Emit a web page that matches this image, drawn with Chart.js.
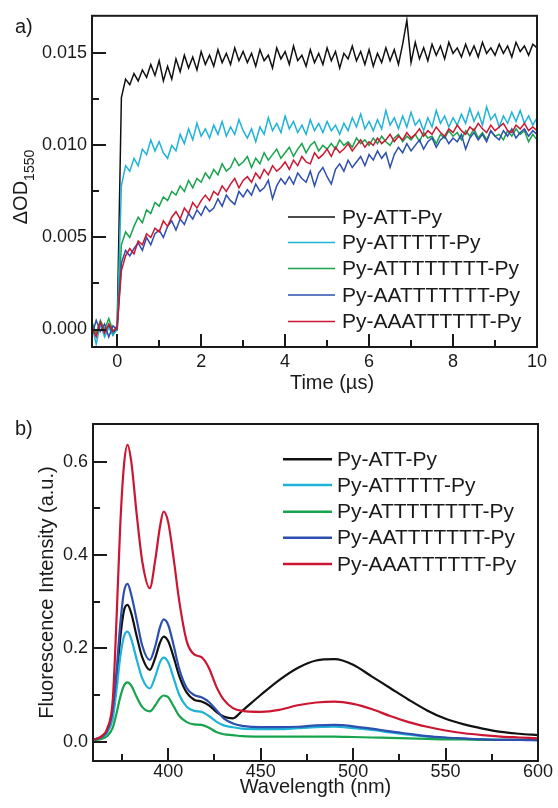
<!DOCTYPE html>
<html>
<head>
<meta charset="utf-8">
<script src="https://cdn.jsdelivr.net/npm/chart.js@4.4.0/dist/chart.umd.min.js"></script>
<style>
  html, body { margin: 0; padding: 0; background: #fff; }
  #wrap { position: relative; width: 558px; height: 808px; }
  canvas { position: absolute; left: 0; }
</style>
</head>
<body>
<div id="wrap">
  <canvas id="chartA" width="558" height="400" style="top:0"></canvas>
  <canvas id="chartB" width="558" height="408" style="top:400px"></canvas>
</div>
<script>
const seriesNames = ["Py-ATT-Py", "Py-ATTTTT-Py", "Py-ATTTTTTTT-Py", "Py-AATTTTTTT-Py", "Py-AAATTTTTT-Py"];
const seriesColors = ["#111111", "#1fb3d8", "#17a44c", "#2d4fae", "#cc1631"];

// a) transient absorption, time in µs, ΔOD in units of 1e-3
const timeUs = [
  -0.6, -0.5, -0.4, -0.3, -0.2, -0.1, 0,
  0.1, 0.2, 0.3, 0.4, 0.5, 0.6, 0.7, 0.8, 0.9, 1.0,
  1.1, 1.2, 1.3, 1.4, 1.5, 1.6, 1.7, 1.8, 1.9, 2.0,
  2.1, 2.2, 2.3, 2.4, 2.5, 2.6, 2.7, 2.8, 2.9, 3.0,
  3.1, 3.2, 3.3, 3.4, 3.5, 3.6, 3.7, 3.8, 3.9, 4.0,
  4.1, 4.2, 4.3, 4.4, 4.5, 4.6, 4.7, 4.8, 4.9, 5.0,
  5.1, 5.2, 5.3, 5.4, 5.5, 5.6, 5.7, 5.8, 5.9, 6.0,
  6.1, 6.2, 6.3, 6.4, 6.5, 6.6, 6.7, 6.8, 6.9, 7.0,
  7.1, 7.2, 7.3, 7.4, 7.5, 7.6, 7.7, 7.8, 7.9, 8.0,
  8.1, 8.2, 8.3, 8.4, 8.5, 8.6, 8.7, 8.8, 8.9, 9.0,
  9.1, 9.2, 9.3, 9.4, 9.5, 9.6, 9.7, 9.8, 9.9, 10.0
];
const odATT = [
  0.3, -0.2, 0.4, -0.1, 0.2, -0.3, 0.2,
  12.6, 13.6, 13.3, 13.9, 13.5, 14.1, 13.7, 14.4, 13.8, 14.6,
  13.5, 14.3, 13.6, 14.7, 14.0, 14.9, 14.2, 14.8, 14.1, 15.1,
  14.4, 14.9, 14.3, 15.2, 14.5, 15.0, 14.4, 15.3, 14.6, 15.1,
  14.5, 15.0, 14.3, 15.2, 14.6, 14.9, 14.2, 15.3, 14.7, 15.1,
  14.4, 15.4, 14.6, 14.9, 14.3, 15.2, 14.5, 15.0, 14.4, 15.3,
  14.6, 15.1, 14.2, 15.0, 14.7, 15.4, 14.6, 15.1, 14.4, 15.2,
  14.3, 15.0, 14.5, 15.3, 14.6, 15.2, 14.4, 15.5, 16.8, 14.5,
  15.6, 14.7, 15.3, 14.6, 15.5, 14.9, 15.4, 14.7, 15.6, 15.0,
  15.3, 14.8, 15.5, 14.9, 15.4, 14.8, 15.6, 15.0, 15.3, 14.9,
  15.5, 15.0, 15.4, 14.8, 15.6, 15.1, 15.4, 14.9, 15.5, 15.3
];
const odATTTTT = [
  0.2, -0.8, 0.3, -0.4, 0.1, -0.3, 0.0,
  7.8, 8.9, 8.6, 9.3, 8.9, 9.8, 9.5, 10.3, 9.7, 10.2,
  9.6, 9.3, 10.0, 9.7, 10.6, 10.1, 10.9, 10.3, 11.2, 10.5,
  10.9, 10.4, 11.1, 10.6, 11.3, 10.5, 11.0, 10.6, 11.4, 10.8,
  10.4, 10.9, 10.2, 11.0, 10.6, 11.5, 10.8, 11.2, 10.7, 11.6,
  10.9, 11.3, 10.7, 11.1, 10.6, 11.4, 10.8, 11.2, 10.7, 11.3,
  10.8, 11.1, 10.6, 11.2, 10.8, 11.5, 11.0, 11.7, 10.9, 11.3,
  10.8, 11.4, 10.9, 11.9, 11.1, 11.5, 10.9, 11.6, 11.0, 11.8,
  11.1, 11.4, 10.8, 11.5, 11.0, 11.9, 11.2, 11.6, 11.0, 11.5,
  11.1, 11.7, 11.2, 12.0, 11.3, 11.8, 11.1, 12.1, 11.4, 11.7,
  11.0, 11.6, 11.2, 11.8, 11.3, 11.9, 11.2, 11.6, 11.1, 11.5
];
const odATTTTTTTT = [
  0.4, -0.2, 0.5, 0.0, 0.6, -0.1, 0.2,
  4.6, 5.3, 5.0, 5.6, 6.1, 5.8, 6.5, 6.3, 6.9, 6.7,
  7.2, 7.0, 7.5, 7.3, 7.8, 7.5, 8.1, 7.7, 8.2, 8.0,
  8.5, 8.2, 8.7, 8.4, 9.0, 8.6, 8.8, 9.3, 8.9, 9.1,
  9.4, 8.8, 9.3, 9.0, 9.6, 9.2, 9.5, 9.8, 9.3, 9.6,
  9.9, 9.4, 9.8, 10.1, 9.6, 10.0, 10.2, 9.7, 10.0, 9.8,
  10.1, 9.8, 10.3, 10.0, 10.2, 9.9, 10.4, 10.1, 10.3, 10.0,
  10.4, 10.1, 10.5, 10.2, 10.0, 10.4, 10.6, 10.2, 10.5, 10.3,
  10.6, 10.2, 10.7, 10.4, 10.5, 10.1, 10.6, 10.4, 10.8, 10.5,
  10.7, 10.3, 10.8, 10.5, 10.9, 10.4, 10.7, 10.3, 10.8, 10.5,
  10.6, 10.3, 10.8, 10.5, 10.9, 10.6, 10.8, 10.2, 10.6, 10.3
];
const odAATTTTTTT = [
  -0.3, 0.5, -0.1, 0.3, -0.4, 0.2, 0.0,
  3.6, 4.3, 4.0, 4.4, 4.7, 4.3, 5.0, 4.6, 5.2, 5.4,
  5.0, 5.6, 5.9, 5.4, 6.0, 5.7, 6.3, 6.0, 6.5, 6.2,
  6.7, 6.4, 6.6, 7.1, 6.7, 7.3, 7.0, 6.8, 7.5, 7.2,
  7.6, 7.3, 7.9, 7.5, 7.7, 8.1, 7.1, 7.8, 8.2, 7.9,
  8.3, 7.9, 8.5, 8.2, 8.0, 8.6, 7.8, 8.5, 8.8, 8.3,
  7.9, 8.7, 9.0, 8.6, 9.2, 8.8, 9.1, 9.4, 8.9, 9.5,
  9.2, 9.7, 9.3, 9.6, 8.8, 9.5, 9.9, 9.6, 10.1, 9.7,
  10.0, 10.3, 9.8, 10.2, 10.4, 9.9, 10.3, 10.5, 10.1, 10.4,
  10.2, 10.6, 9.8, 10.4, 10.7, 10.3, 10.6, 10.2, 10.8, 10.5,
  10.3, 10.8, 10.5, 10.9, 10.4, 10.7, 10.9, 10.5, 10.8, 10.6
];
const odAAATTTTTT = [
  0.1, -0.4, 0.4, -0.2, 0.3, -0.1, 0.1,
  3.2, 4.0, 4.4, 4.1, 4.8, 4.6, 5.2, 5.0, 5.5, 5.3,
  5.9, 5.6, 6.1, 6.4, 6.0, 6.6, 6.3, 6.9, 6.6, 7.0,
  7.3, 7.0, 7.5, 7.3, 7.8, 7.5, 7.9, 8.2, 7.7, 8.1,
  8.3, 8.0, 8.5, 8.2, 8.7, 8.4, 8.9, 8.6, 8.8, 9.1,
  8.7, 9.2, 8.9, 9.4, 9.1, 9.0, 9.6, 9.3, 9.5, 9.8,
  9.4, 9.9, 9.6, 9.8, 10.1, 9.7, 10.0, 10.3, 9.9, 10.2,
  10.0, 10.4, 10.1, 10.3, 10.6, 10.2, 10.5, 10.3, 10.7, 10.4,
  10.6, 10.9, 10.5, 10.8, 10.6, 11.0, 10.7, 10.5, 10.9, 10.7,
  11.1, 10.8, 10.6, 11.0, 10.8, 11.2, 10.9, 10.7, 11.1, 10.8,
  11.0, 11.2, 10.8, 10.7, 11.1, 10.9, 11.2, 10.8, 11.0, 10.8
];
const odSeries = [odATT, odATTTTT, odATTTTTTTT, odAATTTTTTT, odAAATTTTTT];

const timeTicks = [0, 2, 4, 6, 8, 10];
const timeMinorTicks = [1, 3, 5, 7, 9];
const odTicks = [0, 0.005, 0.010, 0.015];
const odMinorTicks = [0.0025, 0.0075, 0.0125];

// b) fluorescence spectra
const wavelengthNm = [
  360, 364, 367, 370, 372, 374, 376, 378, 380, 383, 386, 390, 393, 395.5, 397.5,
  400, 403, 406, 410, 414, 418, 422, 426, 430, 435, 440, 450, 460, 470, 480,
  490, 500, 510, 520, 530, 540, 550, 560, 570, 580, 590, 600
];
const flATT = [
  0.004, 0.010, 0.022, 0.06, 0.13, 0.22, 0.28, 0.293, 0.275, 0.225, 0.18, 0.154, 0.18, 0.212, 0.225,
  0.215, 0.18, 0.14, 0.105, 0.09, 0.086, 0.078, 0.064, 0.054, 0.050, 0.066, 0.10, 0.132, 0.158, 0.174,
  0.177, 0.165, 0.14, 0.115, 0.09, 0.067, 0.049, 0.037, 0.028, 0.021, 0.017, 0.014
];
const flATTTTT = [
  0.004, 0.009, 0.02, 0.05, 0.11, 0.18, 0.225, 0.236, 0.22, 0.175, 0.135, 0.114, 0.14, 0.17, 0.18,
  0.17, 0.135, 0.1, 0.075, 0.066, 0.064, 0.055, 0.043, 0.035, 0.031, 0.028, 0.027, 0.027, 0.029, 0.031,
  0.032, 0.029, 0.025, 0.02, 0.015, 0.011, 0.008, 0.006, 0.005, 0.004, 0.004, 0.004
];
const flATTTTTTTT = [
  0.003, 0.006, 0.012, 0.03, 0.06, 0.095, 0.12, 0.127, 0.12, 0.095, 0.074, 0.065, 0.078, 0.093, 0.099,
  0.095, 0.075, 0.055, 0.042, 0.037, 0.036, 0.03, 0.021, 0.016, 0.014, 0.012, 0.011, 0.011, 0.011, 0.011,
  0.011, 0.010, 0.009, 0.008, 0.007, 0.006, 0.005, 0.005, 0.004, 0.004, 0.004, 0.004
];
const flAATTTTTTT = [
  0.005, 0.011, 0.024, 0.07, 0.15, 0.25, 0.32, 0.338, 0.315, 0.26, 0.205, 0.175, 0.205, 0.245, 0.262,
  0.25, 0.205, 0.155, 0.115, 0.1, 0.095, 0.085, 0.068, 0.05, 0.039, 0.034, 0.031, 0.031, 0.032, 0.035,
  0.036, 0.033, 0.028, 0.022, 0.017, 0.012, 0.009, 0.007, 0.005, 0.004, 0.004, 0.003
];
const flAAATTTTTT = [
  0.004, 0.012, 0.028, 0.09, 0.26, 0.46, 0.59, 0.636, 0.60, 0.485, 0.385, 0.329, 0.39, 0.46, 0.493,
  0.47, 0.39, 0.30, 0.215, 0.187, 0.181, 0.158, 0.118, 0.090, 0.072, 0.066, 0.064, 0.068, 0.078, 0.084,
  0.086, 0.081, 0.070, 0.055, 0.042, 0.032, 0.024, 0.018, 0.014, 0.011, 0.009, 0.007
];
const flSeries = [flATT, flATTTTT, flATTTTTTTT, flAATTTTTTT, flAAATTTTTT];

const wlTicks = [400, 450, 500, 550, 600];
const wlMinorTicks = [375, 425, 475, 525, 575];
const flTicks = [0, 0.2, 0.4, 0.6];
const flMinorTicks = [0.1, 0.3, 0.5];

const FONT = "'Liberation Sans', Arial, sans-serif";
const INK = "#1a1a1a";

// box, inward ticks, legend, panel letter and extra titles
const framePlugin = {
  id: "frame",
  afterDraw(chart, args, opts) {
    const { ctx, chartArea: a } = chart;
    const xs = chart.scales.x, ys = chart.scales.y;
    ctx.save();
    ctx.strokeStyle = INK;
    ctx.lineWidth = 2;
    ctx.beginPath();
    const xTick = (v, len) => {
      const px = Math.round(xs.getPixelForValue(v));
      ctx.moveTo(px, a.bottom); ctx.lineTo(px, a.bottom - len);
    };
    const yTick = (v, len) => {
      const py = Math.round(ys.getPixelForValue(v));
      ctx.moveTo(a.left, py); ctx.lineTo(a.left + len, py);
    };
    opts.xMajor.forEach(v => xTick(v, 13));
    opts.xMinor.forEach(v => xTick(v, 7));
    opts.yMajor.forEach(v => yTick(v, 14));
    opts.yMinor.forEach(v => yTick(v, 7));
    ctx.stroke();
    ctx.strokeRect(a.left, a.top, a.right - a.left, a.bottom - a.top);

    // legend
    const lg = opts.legend;
    ctx.font = "21px " + FONT;
    ctx.textBaseline = "middle";
    ctx.textAlign = "left";
    ctx.fillStyle = INK;
    lg.rows.forEach((ry, i) => {
      ctx.strokeStyle = seriesColors[i];
      ctx.lineWidth = lg.lineWidth;
      ctx.beginPath();
      ctx.moveTo(lg.x0, ry); ctx.lineTo(lg.x1, ry);
      ctx.stroke();
      ctx.fillText(seriesNames[i], lg.tx, ry + 1);
    });

    // panel letter
    ctx.font = "20px " + FONT;
    ctx.textBaseline = "alphabetic";
    ctx.fillText(opts.panel, 15, opts.panelY);

    if (opts.xTitle) {
      ctx.textAlign = "center";
      ctx.textBaseline = "middle";
      ctx.fillText(opts.xTitle.text, opts.xTitle.x, opts.xTitle.y);
    }
    if (opts.yTitle) {
      const t = opts.yTitle;
      ctx.translate(t.x, t.y);
      ctx.rotate(-Math.PI / 2);
      ctx.textAlign = "left";
      ctx.textBaseline = "alphabetic";
      ctx.font = "20px " + FONT;
      const w1 = ctx.measureText(t.main).width;
      ctx.font = "14px " + FONT;
      const w2 = ctx.measureText(t.sub).width;
      const start = -(w1 + w2) / 2;
      ctx.font = "20px " + FONT;
      ctx.fillText(t.main, start, 0);
      ctx.font = "14px " + FONT;
      ctx.fillText(t.sub, start + w1, 7);
    }
    ctx.restore();
  }
};

function baseScale(min, max, ticks, fmt, fit) {
  return {
    type: "linear",
    min: min,
    max: max,
    afterBuildTicks: s => { s.ticks = ticks.map(v => ({ value: v })); },
    afterFit: fit,
    grid: { display: false, drawTicks: false },
    border: { display: false },
    ticks: { font: { size: 18, family: FONT }, color: INK, callback: fmt }
  };
}

// panel a
const scaleAx = baseScale(-0.6, 10, timeTicks, v => String(v), s => { s.height = 53; });
scaleAx.ticks.padding = 4;
const scaleAy = baseScale(-0.00095, 0.01704, odTicks, v => v.toFixed(3), s => { s.width = 92; });
scaleAy.ticks.padding = 5;

new Chart(document.getElementById("chartA"), {
  type: "line",
  data: {
    datasets: seriesNames.map((name, i) => ({
      label: name,
      data: timeUs.map((t, k) => ({ x: t, y: odSeries[i][k] / 1000 })),
      borderColor: seriesColors[i],
      borderWidth: 1.5,
      pointRadius: 0,
      tension: 0,
      order: 5 - i
    }))
  },
  options: {
    responsive: false,
    animation: false,
    devicePixelRatio: 1,
    layout: { padding: { left: 0, top: 12, right: 21, bottom: 0 } },
    plugins: {
      legend: { display: false },
      tooltip: { enabled: false },
      frame: {
        xMajor: timeTicks, xMinor: timeMinorTicks, yMajor: odTicks, yMinor: odMinorTicks,
        legend: { rows: [217, 242.5, 268.5, 295, 321.5], x0: 288, x1: 335, tx: 342, lineWidth: 1.6 },
        panel: "a)", panelY: 33,
        xTitle: { text: "Time (\u00b5s)", x: 332, y: 383 },
        yTitle: { main: "\u0394OD", sub: "1550", x: 27, y: 187 }
      }
    },
    scales: { x: scaleAx, y: scaleAy }
  },
  plugins: [framePlugin]
});

// panel b
const scaleBx = baseScale(359.3, 600, wlTicks, v => String(v), s => { s.height = 47; });
scaleBx.ticks.padding = 0;
scaleBx.title = { display: true, text: "Wavelength (nm)", font: { size: 20, family: FONT }, color: INK, padding: { top: 0, bottom: 9 } };
const scaleBy = baseScale(-0.0414, 0.6808, flTicks, v => v.toFixed(1), s => { s.width = 93; });
scaleBy.ticks.padding = 5;
scaleBy.title = { display: true, text: "Fluorescence Intensity (a.u.)", font: { size: 20, family: FONT }, color: INK, padding: { top: 35, bottom: 0 } };

new Chart(document.getElementById("chartB"), {
  type: "line",
  data: {
    datasets: seriesNames.map((name, i) => ({
      label: name,
      data: wavelengthNm.map((w, k) => ({ x: w, y: flSeries[i][k] })),
      borderColor: seriesColors[i],
      borderWidth: 2.2,
      pointRadius: 0,
      cubicInterpolationMode: "monotone",
      order: 5 - i
    }))
  },
  options: {
    responsive: false,
    animation: false,
    devicePixelRatio: 1,
    layout: { padding: { left: 0, top: 24, right: 20, bottom: 0 } },
    plugins: {
      legend: { display: false },
      tooltip: { enabled: false },
      frame: {
        xMajor: wlTicks, xMinor: wlMinorTicks, yMajor: flTicks, yMinor: flMinorTicks,
        legend: { rows: [59.3, 85, 111.7, 137.7, 164], x0: 283, x1: 332, tx: 337, lineWidth: 2.4 },
        panel: "b)", panelY: 35
      }
    },
    scales: { x: scaleBx, y: scaleBy }
  },
  plugins: [framePlugin]
});
</script>
</body>
</html>
